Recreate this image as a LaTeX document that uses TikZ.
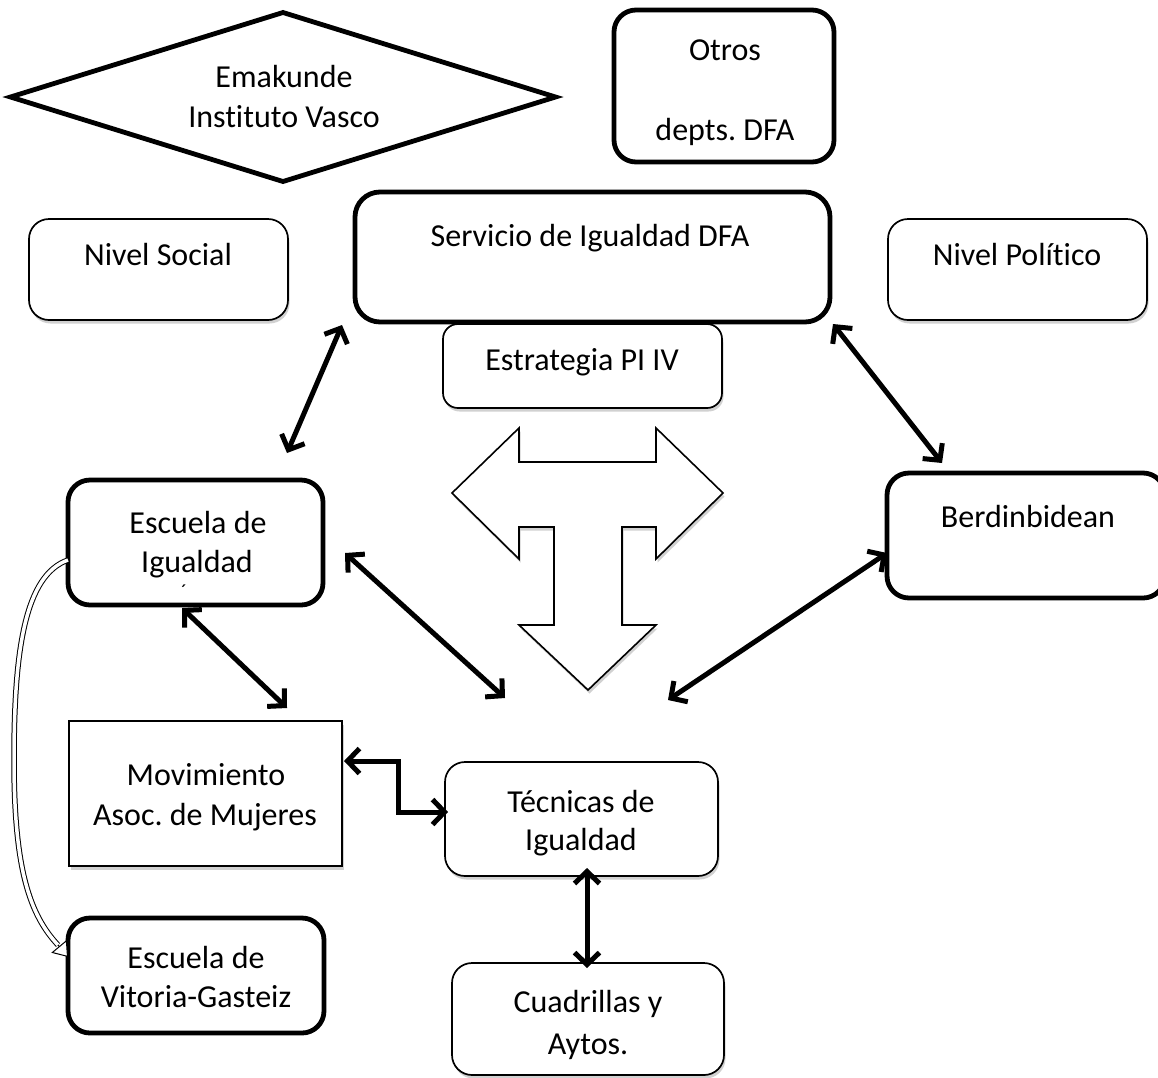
\documentclass[tikz,border=0pt]{standalone}
\usepackage{fontspec}
\setmainfont[Ligatures={NoCommon}]{Carlito}
\frenchspacing
\usetikzlibrary{arrows.meta,shadows,shapes.geometric}
\tikzset{
  lbl/.style={anchor=base, inner sep=0pt, font=\fontsize{32}{39}\selectfont},
  thickbox/.style={draw, line width=4.8pt, rounded corners=22pt, fill=white, inner sep=0pt},
  thinbox/.style={draw, line width=1.7pt, rounded corners=20pt, fill=white, inner sep=0pt, softshadow},
  softshadow/.style={drop shadow={shadow xshift=1.5pt, shadow yshift=-3.5pt, opacity=0.3, fill=black!60}},
  link/.style={line width=5pt, {Straight Barb[length=12pt,width=25pt]}-{Straight Barb[length=12pt,width=25pt]}},
}
\begin{document}
\begin{tikzpicture}[x=1pt,y=-1pt]
\useasboundingbox (0,0) rectangle (1158,1077);
\clip (0,0) rectangle (1158,1077);

% diamond
\node[draw, shape=diamond, line width=4.8pt, inner sep=0pt, aspect=3.2,
      minimum width=547pt, minimum height=171pt] (dia) at (283,97) {};
\node[lbl] (diaA) at (284,87) {Emakunde};
\node[lbl] (diaB) at (284,127) {Instituto Vasco};

% boxes
\node[thickbox, minimum width=220pt, minimum height=152pt] (otros) at (724,86) {};
\node[lbl] (otrosA) at (725,60) {Otros};
\node[lbl] (otrosB) at (725,140) {depts. DFA};

\node[thickbox, rounded corners=25pt, minimum width=475pt, minimum height=130pt] (serv) at (592.5,257) {};
\node[lbl] (servA) at (590,246) {Servicio de Igualdad DFA};

\node[thinbox, minimum width=259pt, minimum height=101pt] (ns) at (158.5,269.5) {};
\node[lbl] (nsA) at (158,265) {Nivel Social};

\node[thinbox, minimum width=259pt, minimum height=101pt] (np) at (1017.5,269.5) {};
\node[lbl] (npA) at (1017,265) {Nivel Político};

\node[thinbox, rounded corners=15pt, minimum width=279pt, minimum height=84pt] (est) at (582.5,366) {};
\node[lbl] (estA) at (582,370) {Estrategia PI IV};

\node[thickbox, minimum width=255pt, minimum height=125pt] (escI) at (195.5,542.5) {};
\node[lbl] (escIA) at (198,533) {Escuela de};
\node[lbl] (escIB) at (197,572) {Igualdad};
\node[lbl, font=\fontsize{20}{24}\selectfont] (escIC) at (184,598) {´};

\node[thickbox, minimum width=278pt, minimum height=125pt] (berd) at (1026,535.5) {};
\node[lbl] (berdA) at (1028,527) {Berdinbidean};

\node[draw, line width=1.7pt, fill=white, inner sep=0pt, softshadow, minimum width=273pt, minimum height=145pt] (mov) at (205.5,793.5) {};
\node[lbl] (movA) at (206,785) {Movimiento};
\node[lbl] (movB) at (205,825) {Asoc. de Mujeres};

\node[thinbox, minimum width=273pt, minimum height=114pt] (tec) at (581.5,819) {};
\node[lbl] (tecA) at (581,812) {Técnicas de};
\node[lbl] (tecB) at (581,850) {Igualdad};

\node[thickbox, minimum width=256pt, minimum height=115pt] (escV) at (196,975.5) {};
\node[lbl] (escVA) at (196,968) {Escuela de};
\node[lbl] (escVB) at (196,1007) {Vitoria-Gasteiz};

\node[thinbox, minimum width=272pt, minimum height=112pt] (cuad) at (588,1019) {};
\node[lbl] (cuadA) at (588,1012) {Cuadrillas y};
\node[lbl] (cuadB) at (588,1054) {Aytos.};

% T-shaped block arrow
\draw[line width=1.6pt, fill=white, line join=miter, softshadow]
  (452,493) -- (519,428) -- (519,462) -- (656,462) -- (656,428) -- (723,493)
  -- (656,559) -- (656,527) -- (622,527) -- (622,625) -- (656,625) -- (588,690)
  -- (519,625) -- (554,625) -- (554,527) -- (519,527) -- (519,559) -- cycle;

% connector end points
\coordinate (a1s) at (342,325); \coordinate (a1e) at (287,453);
\coordinate (a2s) at (833,324); \coordinate (a2e) at (942,463);
\coordinate (a3s) at (345,553); \coordinate (a3e) at (505,698);
\coordinate (a4s) at (182,608); \coordinate (a4e) at (287,708);
\coordinate (a5s) at (887,553); \coordinate (a5e) at (668,700);
\coordinate (a6s) at (587,868); \coordinate (a6e) at (587,968);
\coordinate (a7s) at (344,761); \coordinate (a7e) at (448,812);

\draw[link] (a1s) -- (a1e);
\draw[link] (a2s) -- (a2e);
\draw[link] (a3s) -- (a3e);
\draw[link] (a4s) -- (a4e);
\draw[link] (a5s) -- (a5e);
\draw[link] (a6s) -- (a6e);
\draw[link, line join=miter] (a7s) -- ++(54,0) |- (a7e);

% curved hollow arrow
\coordinate (cvs) at (68,560);
\coordinate (cve) at (58,945);
\coordinate (cvt) at (68,957);
\draw[line width=1pt, double=white, double distance=3.5pt]
  (cvs) .. controls (25,575) and (14,650) .. (14,760)
        .. controls (14,870) and (30,915) .. (cve);
\draw[line width=1pt, -{Triangle[length=14pt, width=20pt, fill=white]}] (cve) -- (cvt);
\end{tikzpicture}
\end{document}
